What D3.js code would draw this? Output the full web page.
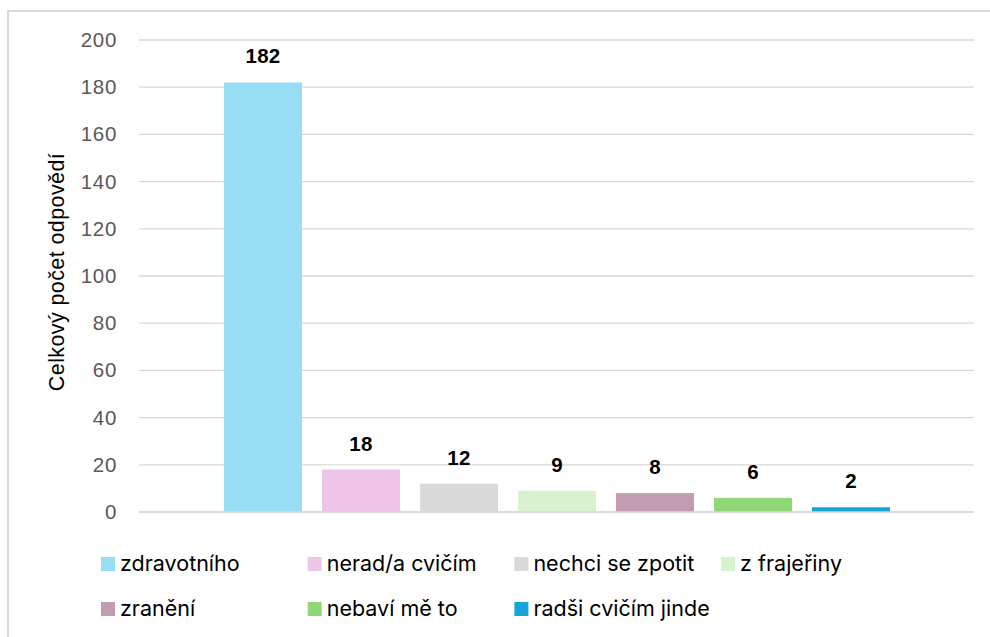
<!DOCTYPE html>
<html>
<head>
<meta charset="utf-8">
<script src="https://cdn.jsdelivr.net/npm/d3@7"></script>
<style>
  body { margin: 0; background: #fff; }
  svg { display: block; }
</style>
</head>
<body>
<div id="chart"></div>
<script>
// data
const categories = ['zdravotního', 'nerad/a cvičím', 'nechci se zpotit', 'z frajeřiny',
                    'zranění', 'nebaví mě to', 'radši cvičím jinde'];
const values = [182, 18, 12, 9, 8, 6, 2];
const colors = ['#97DDF4', '#EEC4E8', '#D9D9D9', '#D8F2D0', '#C29DB2', '#8FD875', '#15A5DB'];
const yTicks = [0, 20, 40, 60, 80, 100, 120, 140, 160, 180, 200];
const yTitle = 'Celkový počet odpovědí';

const width = 990, height = 637;
const plot = { left: 139, right: 974, top: 40, bottom: 512 };
const font = 'Liberation Sans, Arial, sans-serif';

const svg = d3.select('#chart')
    .append('svg')
    .attr('width', width)
    .attr('height', height);

// chart area border (only top and left visible in the crop)
svg.append('rect')
    .attr('x', 8).attr('y', 11)
    .attr('width', 1000).attr('height', 700)
    .attr('fill', 'none')
    .attr('stroke', '#d9d9d9')
    .attr('stroke-width', 2);

const y = d3.scaleLinear().domain([0, 200]).range([plot.bottom, plot.top]);

// one category, seven series side by side
const x = d3.scaleBand()
    .domain(categories)
    .range([plot.left + 75, plot.right - 74])
    .paddingInner(0.204)
    .paddingOuter(0.102);

// gridlines
svg.append('g')
    .selectAll('line')
    .data(yTicks)
    .enter()
    .append('line')
    .attr('x1', plot.left)
    .attr('x2', plot.right)
    .attr('y1', d => y(d))
    .attr('y2', d => y(d))
    .attr('stroke', '#d9d9d9')
    .attr('stroke-width', 1.3);

// y axis labels
const yAxis = svg.append('g')
    .attr('transform', `translate(${plot.left - 22},0)`)
    .call(d3.axisLeft(y).tickValues(yTicks).tickSize(0).tickPadding(0));
yAxis.select('.domain').remove();
yAxis.selectAll('text')
    .attr('font-family', font)
    .attr('font-size', '20.5px')
    .attr('letter-spacing', '0.7px')
    .attr('fill', '#595959');

svg.append('text')
    .attr('transform', `translate(64,272) rotate(-90)`)
    .attr('text-anchor', 'middle')
    .attr('font-family', font)
    .attr('font-size', '21.5px')
    .attr('letter-spacing', '0.4px')
    .attr('fill', '#000')
    .text(yTitle);

// bars
svg.append('g')
    .selectAll('rect')
    .data(values)
    .enter()
    .append('rect')
    .attr('x', (d, i) => x(categories[i]))
    .attr('y', d => y(d))
    .attr('width', x.bandwidth())
    .attr('height', d => y(0) - y(d))
    .attr('fill', (d, i) => colors[i]);

// zero line on top of bars
svg.append('line')
    .attr('x1', plot.left).attr('x2', plot.right)
    .attr('y1', y(0)).attr('y2', y(0))
    .attr('stroke', '#d9d9d9')
    .attr('stroke-width', 1.3);

// value labels
svg.append('g')
    .selectAll('text')
    .data(values)
    .enter()
    .append('text')
    .attr('x', (d, i) => x(categories[i]) + x.bandwidth() / 2)
    .attr('y', d => y(d) - 19)
    .attr('text-anchor', 'middle')
    .attr('font-family', font)
    .attr('font-weight', 'bold')
    .attr('font-size', '20.5px')
    .attr('letter-spacing', '0.3px')
    .attr('fill', '#000')
    .text(d => d);

// legend, 4 per row
const legend = svg.append('g')
    .selectAll('g')
    .data(categories)
    .enter()
    .append('g')
    .attr('transform', (d, i) => `translate(${101 + (i % 4) * 206.7},${557 + Math.floor(i / 4) * 45})`);

legend.append('rect')
    .attr('width', 14)
    .attr('height', 14)
    .attr('fill', (d, i) => colors[i]);

legend.append('text')
    .attr('x', 19)
    .attr('y', 14)
    .attr('font-family', 'Inter, Liberation Sans, sans-serif')
    .attr('font-size', '21.5px')
    .attr('fill', '#000')
    .text(d => d);
</script>
</body>
</html>
